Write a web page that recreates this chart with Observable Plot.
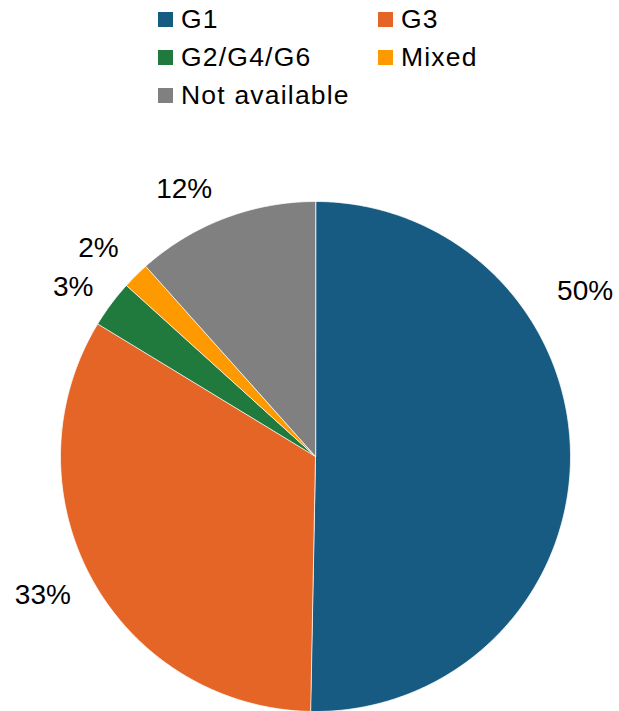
<!DOCTYPE html>
<html>
<head>
<meta charset="utf-8">
<script src="https://cdn.jsdelivr.net/npm/d3@7"></script>
<script src="https://cdn.jsdelivr.net/npm/@observablehq/plot@0.6"></script>
<style>
  body { margin: 0; background: #fff; font-family: "Liberation Sans", Arial, sans-serif; }
  #chart { width: 619px; }
  .genotype-swatches {
    display: grid !important;
    grid-template-columns: 220px auto;
    margin: 0 0 0 158px !important;
    height: 114px;
    font-family: "Liberation Sans", Arial, sans-serif;
    font-size: 26.5px;
    letter-spacing: 1.2px;
    color: #000;
  }
  .genotype-swatch { height: 38px; margin: 0 !important; display: flex; align-items: center; }
  .genotype-swatch > svg { margin-right: 8px !important; }
</style>
</head>
<body>
<div id="chart"></div>
<script>
// Genotype shares (percent of patients)
const genotypes = ["G1", "G3", "G2/G4/G6", "Mixed", "Not available"];
const shares = [50.3, 33.4, 3.0, 1.7, 11.6];
const colors = ["#175a82", "#e46525", "#207a3d", "#fe9a00", "#808080"];

// Label layout: how far along each slice's arc the label sits, and its radius
const labelAlong = [0.323, 0.515, 0.34, 0.28, 0.375];
const labelRadius = [1.24, 1.2, 1.16, 1.18, 1.17];

// Slice angles, clockwise from 12 o'clock
const total = d3.sum(shares);
let acc = 0;
const slices = genotypes.map((key, i) => {
  const a0 = (acc / total) * 2 * Math.PI;
  acc += shares[i];
  const a1 = (acc / total) * 2 * Math.PI;
  return {key, value: shares[i], a0, a1, along: labelAlong[i], r: labelRadius[i]};
});

// Wedge outlines in unit-circle coordinates
const wedgePoints = slices.flatMap(s => {
  const n = Math.max(2, Math.ceil((s.a1 - s.a0) / (Math.PI / 360)));
  const pts = [{key: s.key, x: 0, y: 0}];
  for (let i = 0; i <= n; ++i) {
    const a = s.a0 + (s.a1 - s.a0) * i / n;
    pts.push({key: s.key, x: Math.sin(a), y: Math.cos(a)});
  }
  return pts;
});

const labels = slices.map(s => {
  const a = s.a0 + (s.a1 - s.a0) * s.along;
  return {
    x: s.r * Math.sin(a),
    y: s.r * Math.cos(a),
    text: d3.format(".0f")(s.value) + "%"
  };
});

const colorScale = {type: "ordinal", domain: genotypes, range: colors};

const legend = Plot.legend({
  color: colorScale,
  legend: "swatches",
  className: "genotype",
  swatchSize: 15
});

const chart = Plot.plot({
  width: 619,
  height: 597,
  marginTop: 87,
  marginBottom: 0,
  marginLeft: 60,
  marginRight: 49,
  style: {fontFamily: "Liberation Sans, Arial, sans-serif", background: "#fff"},
  x: {domain: [-1, 1], axis: null},
  y: {domain: [-1, 1], axis: null},
  color: colorScale,
  marks: [
    Plot.line(wedgePoints, {
      x: "x", y: "y", z: "key", fill: "key",
      stroke: "white", strokeWidth: 0.75, curve: "linear-closed"
    }),
    Plot.text(labels, {x: "x", y: "y", text: "text", fontSize: 28, fill: "#000"})
  ]
});

document.getElementById("chart").append(legend, chart);
</script>
</body>
</html>
